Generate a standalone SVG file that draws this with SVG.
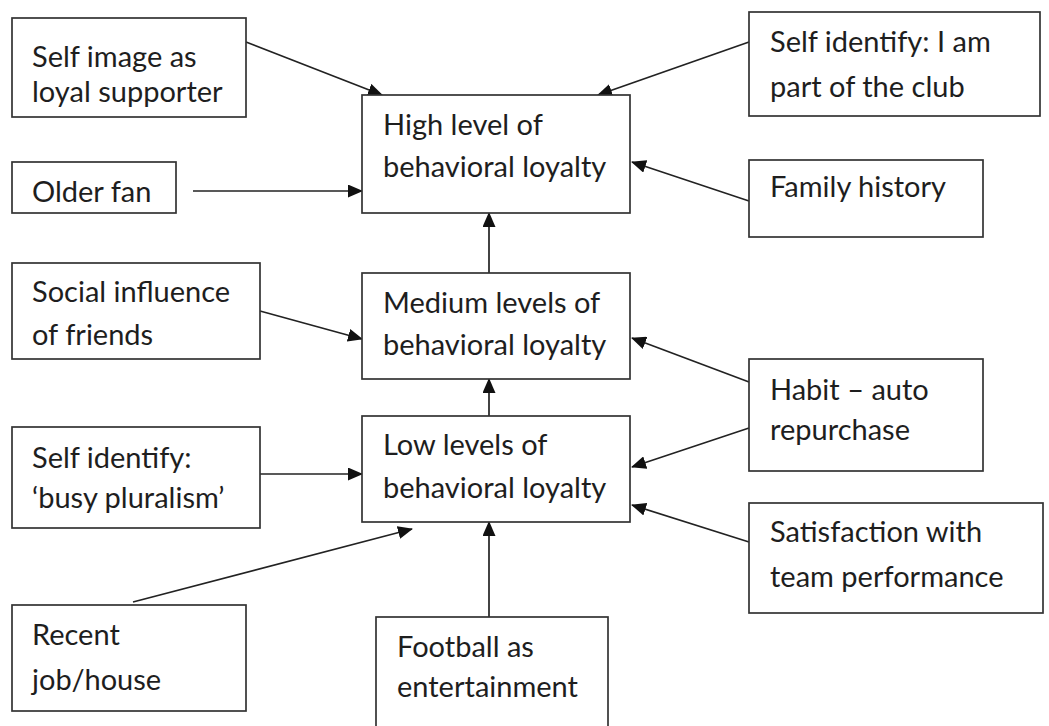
<svg xmlns="http://www.w3.org/2000/svg" width="1049" height="726" viewBox="0 0 1049 726">
<style>
.box{fill:#fff;stroke:#333;stroke-width:1.7}
.t{font-family:Lato,"Liberation Sans",sans-serif;font-size:29px;fill:#1e1e1e}
.c{stroke:#222;stroke-width:1.7;fill:none;marker-end:url(#ah)}
</style>
<defs>
<marker id="ah" markerWidth="15" markerHeight="13" refX="14" refY="6.5" orient="auto" markerUnits="userSpaceOnUse">
<path d="M0,0 L15,6.5 L0,13 Z" fill="#111"/>
</marker>
</defs>
<rect width="1049" height="726" fill="#fff"/>
<g id="connectors">
<line class="c" x1="246" y1="42" x2="382" y2="95"/>
<line class="c" x1="193" y1="191" x2="362" y2="191"/>
<line class="c" x1="749" y1="42" x2="598" y2="95"/>
<line class="c" x1="749" y1="201" x2="632" y2="162"/>
<line class="c" x1="489" y1="273" x2="489" y2="213"/>
<line class="c" x1="260" y1="311" x2="362" y2="339"/>
<line class="c" x1="749" y1="382" x2="632" y2="338"/>
<line class="c" x1="489" y1="416" x2="489" y2="379"/>
<line class="c" x1="260" y1="474" x2="362" y2="474"/>
<line class="c" x1="749" y1="428" x2="632" y2="467"/>
<line class="c" x1="749" y1="542" x2="632" y2="505"/>
<line class="c" x1="133" y1="602" x2="412" y2="529"/>
<line class="c" x1="489" y1="617" x2="489" y2="522"/>
</g>
<g id="self-image">
<rect class="box" x="12" y="18" width="234" height="99"/>
<text class="t" x="32" y="67">Self image as</text>
<text class="t" x="32" y="102">loyal supporter</text>
</g>
<g id="older-fan">
<rect class="box" x="12" y="162" width="164" height="51"/>
<text class="t" x="32" y="202">Older fan</text>
</g>
<g id="high">
<rect class="box" x="362" y="95" width="268" height="118"/>
<text class="t" x="383" y="135">High level of</text>
<text class="t" x="383" y="177">behavioral loyalty</text>
</g>
<g id="self-identify-club">
<rect class="box" x="749" y="12" width="291" height="104"/>
<text class="t" x="770" y="52">Self identify: I am</text>
<text class="t" x="770" y="97">part of the club</text>
</g>
<g id="family-history">
<rect class="box" x="749" y="160" width="234" height="77"/>
<text class="t" x="770" y="197">Family history</text>
</g>
<g id="social-influence">
<rect class="box" x="12" y="263" width="248" height="96"/>
<text class="t" x="32" y="302">Social influence</text>
<text class="t" x="32" y="345">of friends</text>
</g>
<g id="medium">
<rect class="box" x="362" y="273" width="268" height="106"/>
<text class="t" x="383" y="313">Medium levels of</text>
<text class="t" x="383" y="355">behavioral loyalty</text>
</g>
<g id="habit">
<rect class="box" x="749" y="359" width="234" height="112"/>
<text class="t" x="770" y="400">Habit – auto</text>
<text class="t" x="770" y="440">repurchase</text>
</g>
<g id="busy-pluralism">
<rect class="box" x="12" y="427" width="248" height="101"/>
<text class="t" x="32" y="468">Self identify:</text>
<text class="t" x="32" y="508">‘busy pluralism’</text>
</g>
<g id="low">
<rect class="box" x="362" y="416" width="268" height="106"/>
<text class="t" x="383" y="455">Low levels of</text>
<text class="t" x="383" y="498">behavioral loyalty</text>
</g>
<g id="satisfaction">
<rect class="box" x="749" y="503" width="294" height="110"/>
<text class="t" x="770" y="542">Satisfaction with</text>
<text class="t" x="770" y="587">team performance</text>
</g>
<g id="recent-job">
<rect class="box" x="12" y="605" width="234" height="106"/>
<text class="t" x="32" y="645">Recent</text>
<text class="t" x="32" y="690">job/house</text>
</g>
<g id="football">
<rect class="box" x="376" y="617" width="232" height="120"/>
<text class="t" x="397" y="657">Football as</text>
<text class="t" x="397" y="697">entertainment</text>
</g>
</svg>
